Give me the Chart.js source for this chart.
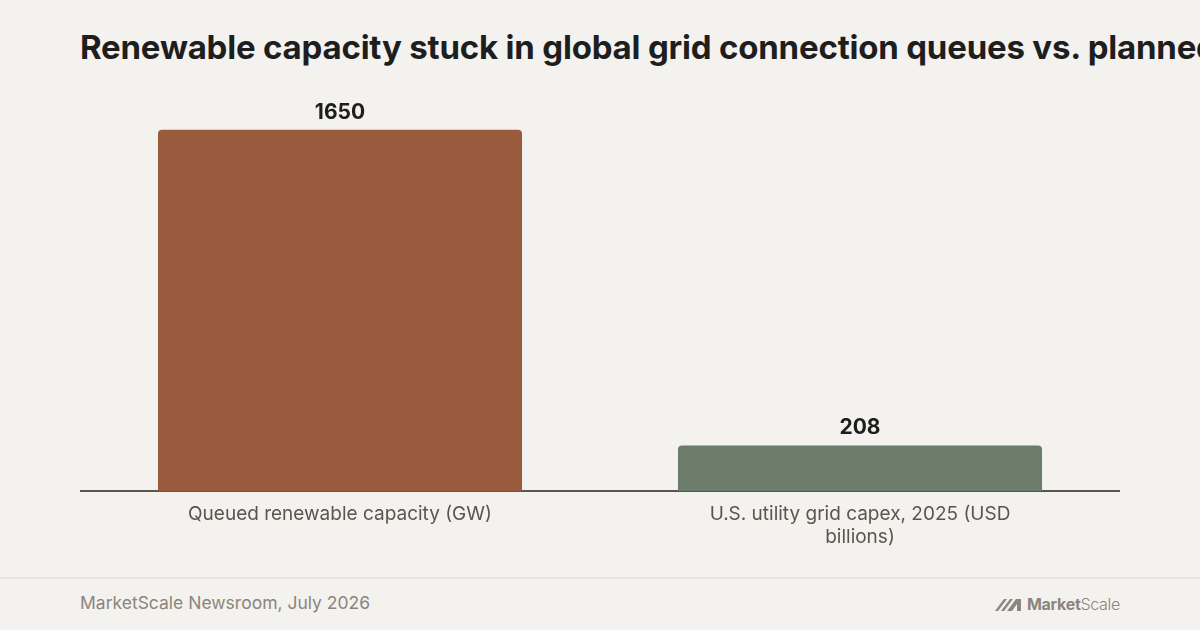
<!DOCTYPE html>
<html>
<head>
<meta charset="utf-8">
<script src="https://cdn.jsdelivr.net/npm/chart.js@4.4.1/dist/chart.umd.min.js"></script>
<style>
  html, body { margin: 0; padding: 0; }
  body { width: 1200px; height: 630px; background: #f4f2ee; position: relative; overflow: hidden; font-family: Inter, "Noto Sans", sans-serif; }
  h1 { position: absolute; left: 80px; top: 27px; margin: 0; font-size: 33px; font-weight: 700; letter-spacing: -0.2px; color: #1e1e1e; white-space: nowrap; }
  #wrap { position: absolute; left: 80px; top: 97px; width: 1040px; height: 473px; }
  #rule { position: absolute; left: 0; top: 577px; width: 1200px; height: 2px; background: #e7e4df; }
  #source { position: absolute; left: 80px; top: 592px; font-size: 17.5px; color: #8a857e; }
  #logo { position: absolute; right: 80px; top: 594px; font-size: 16px; color: #8a857e; display: flex; align-items: center; letter-spacing: -0.3px; }
  #logo b { font-weight: 700; }
  #logo span { font-weight: 300; }
</style>
</head>
<body>
<h1>Renewable capacity stuck in global grid connection queues vs. planned U.S. grid capex</h1>
<div id="wrap"><canvas id="myChart"></canvas></div>
<div id="rule"></div>
<div id="source">MarketScale Newsroom, July 2026</div>
<div id="logo">
  <svg width="30" height="14" viewBox="0 0 28 14" style="margin-right:3px">
    <polygon points="0,14 9,2 12,2 3,14" fill="#8a857e"/>
    <polygon points="6,14 15,2 18,2 9,14" fill="#8a857e"/>
    <polygon points="12,14 21,2 26,2 26,14 22,14 22,7 17,14" fill="#8a857e"/>
  </svg>
  <b>Market</b><span>Scale</span>
</div>
<script>
const labels = [
  'Queued renewable capacity (GW)',
  ['U.S. utility grid capex, 2025 (USD', 'billions)']
];
const values = [1650, 208];
const barColors = ['#9a5a3d', '#6b7c6a'];

// valores em cima das barras
const valueLabels = {
  id: 'valueLabels',
  afterDatasetsDraw(chart) {
    const ctx = chart.ctx;
    const meta = chart.getDatasetMeta(0);
    ctx.save();
    ctx.font = '700 21px Inter, "Noto Sans", sans-serif';
    ctx.fillStyle = '#1e1e1e';
    ctx.textAlign = 'center';
    ctx.textBaseline = 'alphabetic';
    meta.data.forEach(function(bar, i) {
      ctx.fillText(String(values[i]), bar.x, bar.y - 11);
    });
    ctx.restore();
  }
};

const ctx = document.getElementById('myChart').getContext('2d');
let chart = new Chart(ctx, {
  type: 'bar',
  data: {
    labels: labels,
    datasets: [{
      data: values,
      backgroundColor: barColors,
      borderRadius: { topLeft: 4, topRight: 4, bottomLeft: 0, bottomRight: 0 },
      borderSkipped: 'bottom',
      barPercentage: 0.7,
      categoryPercentage: 1
    }]
  },
  options: {
    responsive: true,
    maintainAspectRatio: false,
    animation: false,
    layout: { padding: 0 },
    plugins: { legend: { display: false }, tooltip: { enabled: false } },
    scales: {
      x: {
        grid: { display: false, drawTicks: false },
        border: { display: true, color: '#5c554e', width: 2 },
        ticks: {
          color: '#5a554f',
          padding: 12,
          maxRotation: 0,
          font: { family: 'Inter, "Noto Sans", sans-serif', size: 19, lineHeight: 1.22 }
        },
        afterFit(scale) { scale.height = 79; }
      },
      y: {
        display: false,
        min: 0,
        max: 1800
      }
    }
  },
  plugins: [valueLabels]
});
</script>
</body>
</html>
